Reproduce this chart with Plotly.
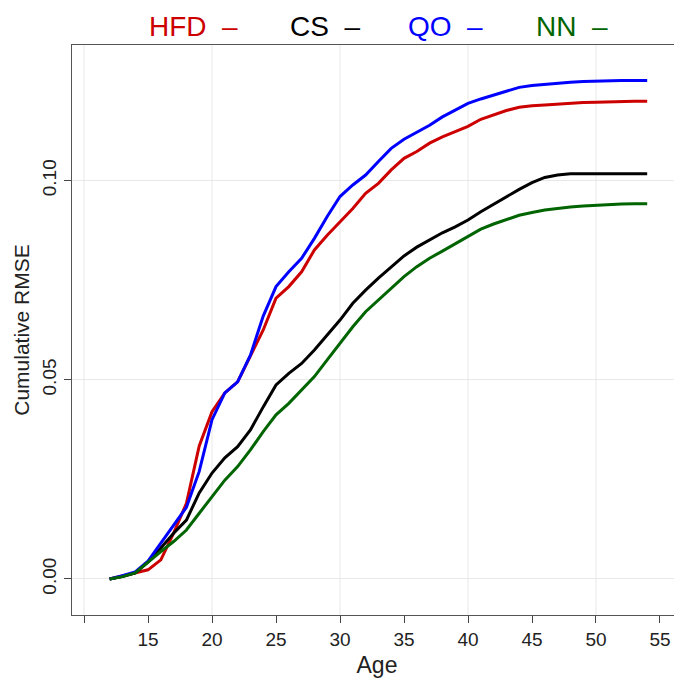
import plotly.graph_objects as go

ages = list(range(12, 55))

hfd = [0.0, 0.0008, 0.0015, 0.0023, 0.0048, 0.0115, 0.019, 0.0334, 0.042, 0.0467,
       0.0495, 0.0562, 0.0625, 0.0705, 0.0734, 0.0771, 0.0826, 0.0863, 0.0897, 0.093,
       0.0968, 0.0993, 0.1027, 0.1056, 0.1073, 0.1094, 0.111, 0.1123, 0.1136, 0.1154,
       0.1165, 0.1176, 0.1184, 0.1188, 0.119, 0.1192, 0.1195, 0.1196, 0.1197, 0.1198,
       0.1199, 0.1199, 0.1199]
cs = [0.0, 0.0006, 0.0015, 0.0043, 0.0078, 0.0115, 0.0148, 0.0216, 0.0266, 0.0304,
      0.0332, 0.0374, 0.0432, 0.0487, 0.0516, 0.0541, 0.0575, 0.0612, 0.065, 0.0692,
      0.0725, 0.0755, 0.0784, 0.0811, 0.0833, 0.0851, 0.0869, 0.0884, 0.0901, 0.0922,
      0.0941, 0.096, 0.0978, 0.0995, 0.1008, 0.1014, 0.1017, 0.1017, 0.1017, 0.1017,
      0.1017, 0.1017, 0.1017]
qo = [0.0, 0.0008, 0.0018, 0.0045, 0.009, 0.0136, 0.018, 0.027, 0.040, 0.0467,
      0.0495, 0.0562, 0.066, 0.0734, 0.0771, 0.0805, 0.0855, 0.091, 0.096, 0.0989,
      0.1014, 0.1048, 0.1081, 0.1104, 0.1121, 0.1139, 0.116, 0.1177, 0.1194, 0.1205,
      0.1215, 0.1225, 0.1234, 0.1239, 0.1242, 0.1244, 0.1247, 0.1249, 0.125, 0.1251,
      0.1251, 0.1251, 0.1251]
nn = [0.0, 0.0006, 0.0015, 0.0043, 0.0069, 0.0094, 0.0123, 0.0165, 0.0207, 0.0248,
      0.0282, 0.0324, 0.037, 0.0412, 0.0441, 0.0474, 0.0508, 0.055, 0.0592, 0.0633,
      0.0671, 0.07, 0.0729, 0.0759, 0.0784, 0.0805, 0.0823, 0.0842, 0.0861, 0.0878,
      0.0891, 0.0903, 0.0913, 0.092, 0.0926, 0.093, 0.0934, 0.0936, 0.0938, 0.094,
      0.0941, 0.0942, 0.0942]

series_names = ["HFD", "CS", "QO", "NN"]
series_colors = ["#CD0000", "#000000", "#0000FF", "#006400"]
series_values = [hfd, cs, qo, nn]

x_tickvals = [10, 15, 20, 25, 30, 35, 40, 45, 50, 55]
x_ticktext = ["", "15", "20", "25", "30", "35", "40", "45", "50", "55"]
x_gridvals = [10, 20, 30, 40, 50]
y_tickvals = [0.0, 0.05, 0.10]
y_ticktext = ["0.00", "0.05", "0.10"]

FONT = "Liberation Sans, Arial, sans-serif"

fig = go.Figure()
for name, color, vals in zip(series_names, series_colors, series_values):
    fig.add_trace(go.Scatter(x=ages, y=vals, mode="lines", name=name,
                             line=dict(color=color, width=3), showlegend=False))

for gv in x_gridvals:
    fig.add_shape(type="line", xref="x", yref="paper", x0=gv, x1=gv, y0=0, y1=1,
                  line=dict(color="#e8e8e8", width=1), layer="below")

legend_x = [0.123, 0.354, 0.548, 0.757]
for name, color, lx in zip(series_names, series_colors, legend_x):
    fig.add_annotation(xref="paper", yref="paper", x=lx, y=1.063,
                       xanchor="left", yanchor="top", showarrow=False,
                       text=name + "\u00a0\u00a0\u2013",
                       font=dict(family=FONT, size=28, color=color))

fig.update_layout(
    width=674, height=673,
    margin=dict(l=64, r=0, t=37, b=66),
    plot_bgcolor="white", paper_bgcolor="white",
    font=dict(family=FONT, color="#222222"),
    xaxis=dict(range=[9.06, 56.72], tickmode="array", tickvals=x_tickvals,
               ticktext=x_ticktext, ticks="outside", ticklen=7, tickcolor="#444444",
               showline=True, linecolor="#555555", linewidth=1, mirror=True,
               showgrid=False, zeroline=False,
               tickfont=dict(family=FONT, size=19, color="#222222"),
               title=dict(text="Age", font=dict(family=FONT, size=23, color="#222222"),
                          standoff=8)),
    yaxis=dict(range=[-0.00904, 0.13404], tickmode="array", tickvals=y_tickvals,
               ticktext=y_ticktext, ticks="outside", ticklen=7, tickcolor="#444444",
               showline=True, linecolor="#555555", linewidth=1,
               showgrid=True, gridcolor="#e8e8e8", gridwidth=1, zeroline=False,
               tickangle=-90,
               tickfont=dict(family=FONT, size=19, color="#222222"),
               title=dict(text="Cumulative RMSE",
                          font=dict(family=FONT, size=21, color="#222222"),
                          standoff=4)),
)

fig.write_html("out.html")
